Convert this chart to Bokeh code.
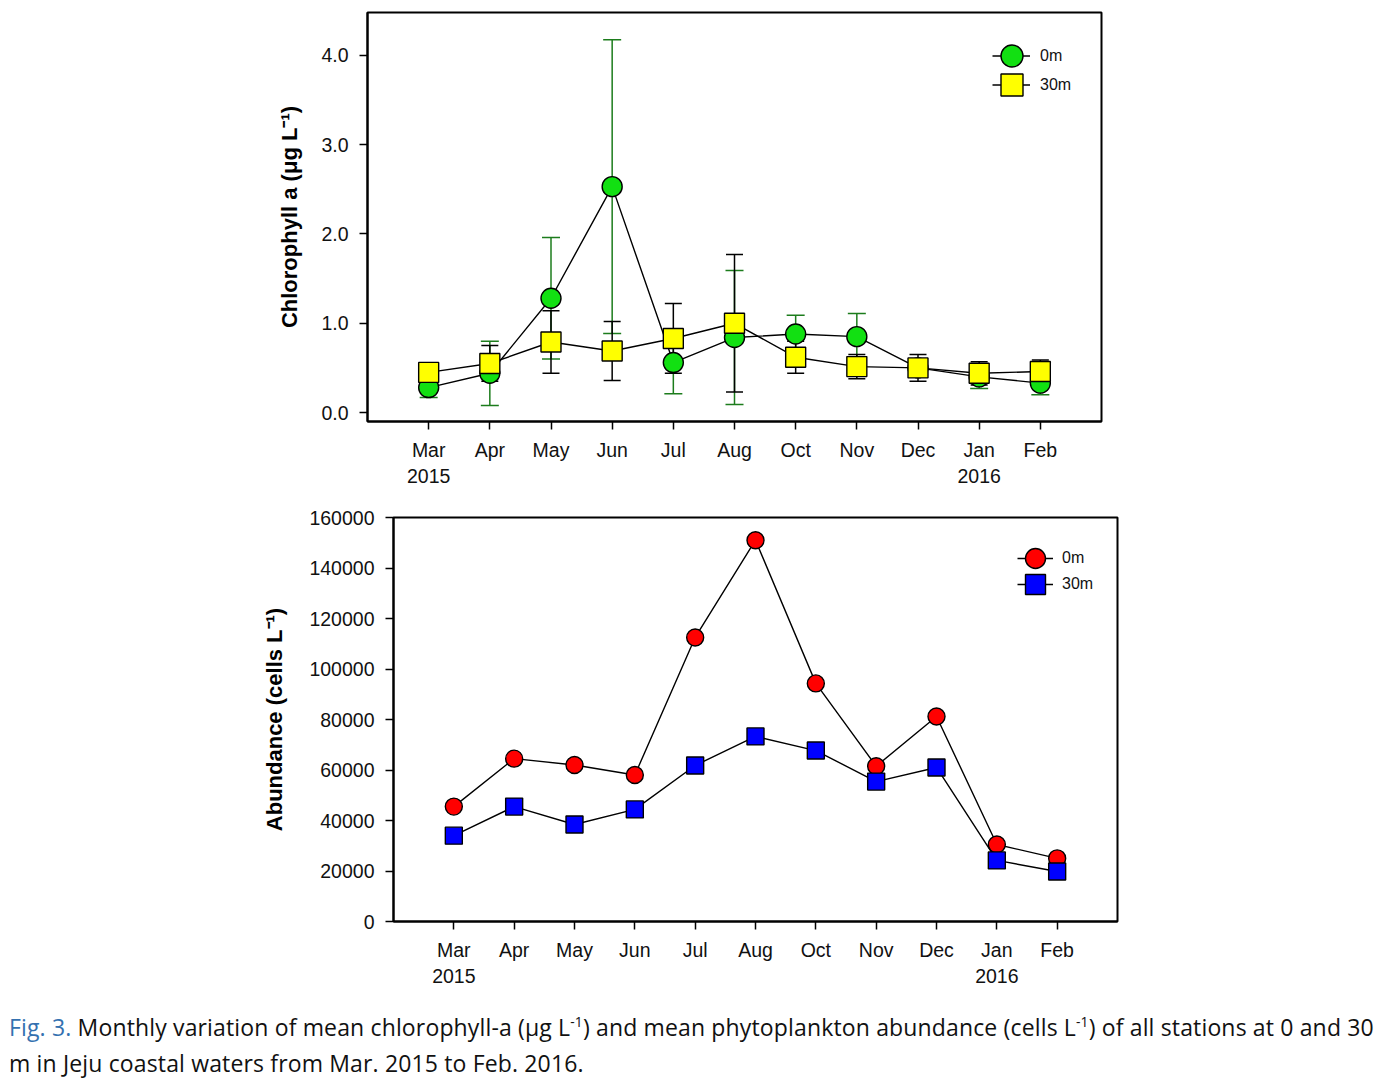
from bokeh.plotting import figure
from bokeh.models import (ColumnDataSource, Range1d, FixedTicker, NumeralTickFormatter,
                          Whisker, TeeHead, Legend, LegendItem, Div)
from bokeh.embed import file_html
from bokeh.resources import INLINE

# ---------------- data ----------------
months = ["Mar", "Apr", "May", "Jun", "Jul", "Aug", "Oct", "Nov", "Dec", "Jan", "Feb"]
tick_labels = ["Mar\n2015", "Apr", "May", "Jun", "Jul", "Aug", "Oct", "Nov", "Dec", "Jan\n2016", "Feb"]

chl_0m = [0.28, 0.44, 1.28, 2.53, 0.56, 0.84, 0.88, 0.85, 0.50, 0.40, 0.33]
chl_0m_sd = [0.11, 0.36, 0.68, 1.645, 0.35, 0.75, 0.21, 0.26, 0.10, 0.13, 0.13]
chl_30m = [0.45, 0.55, 0.79, 0.69, 0.83, 1.00, 0.62, 0.515, 0.50, 0.44, 0.46]
chl_30m_sd = [0.08, 0.20, 0.35, 0.33, 0.39, 0.77, 0.18, 0.135, 0.15, 0.13, 0.13]

abund_0m = [45500, 64500, 62000, 58000, 112500, 151000, 94300, 61500, 81200, 30500, 25000]
abund_30m = [34000, 45500, 38400, 44400, 61800, 73300, 67700, 55400, 61000, 24200, 19800]

chl_ticks = [0, 1, 2, 3, 4]
abund_ticks = [0, 20000, 40000, 60000, 80000, 100000, 120000, 140000, 160000]

# ---------------- style ----------------
FONT = "Liberation Sans"
GREEN = "#12e012"
GREEN_ERR = "#1c7c1c"
YELLOW = "#ffff00"
RED = "#ff0000"
BLUE = "#0000ff"

pos = list(range(1, len(months) + 1))


def style(p, yticks):
    p.xaxis.ticker = FixedTicker(ticks=pos)
    p.xaxis.major_label_overrides = {x: lab for x, lab in zip(pos, tick_labels)}
    p.yaxis.ticker = FixedTicker(ticks=yticks)
    for ax in (p.xaxis[0], p.yaxis[0]):
        ax.axis_line_color = "black"
        ax.axis_line_width = 2
        ax.major_tick_line_color = "black"
        ax.major_tick_line_width = 1.5
        ax.major_tick_out = 8
        ax.major_tick_in = 0
        ax.minor_tick_line_color = None
        ax.major_label_text_font = FONT
        ax.major_label_text_font_size = "19.5px"
        ax.major_label_text_color = "#111111"
        ax.axis_label_text_font = FONT
        ax.axis_label_text_font_style = "bold"
        ax.axis_label_text_font_size = "22px"
        ax.axis_label_text_color = "black"
    p.xaxis.major_label_standoff = 9
    p.yaxis.major_label_standoff = 11
    p.xgrid.grid_line_color = None
    p.ygrid.grid_line_color = None
    p.outline_line_color = "black"
    p.outline_line_width = 2
    p.background_fill_color = "white"
    p.border_fill_color = "white"


def line_legend(items, loc, gw, gh, standoff):
    return Legend(items=items, location=loc, glyph_width=gw, glyph_height=gh, spacing=0,
                  label_standoff=standoff, label_height=gh, padding=0, margin=0,
                  border_line_color=None, background_fill_alpha=0,
                  label_text_font=FONT, label_text_font_size="16px",
                  label_text_color="#111111")


def marker_legend(renderer, loc, g):
    return Legend(items=[LegendItem(label="", renderers=[renderer])], location=loc,
                  glyph_width=g, glyph_height=g, spacing=0, label_standoff=0,
                  label_width=0, label_height=0, padding=0, margin=0,
                  border_line_color=None, background_fill_alpha=0,
                  label_text_font_size="1px")


# ---------------- top chart ----------------
src_top = ColumnDataSource(dict(
    x=pos,
    c0=chl_0m,
    c0_lo=[m - s for m, s in zip(chl_0m, chl_0m_sd)],
    c0_hi=[m + s for m, s in zip(chl_0m, chl_0m_sd)],
    c30=chl_30m,
    c30_lo=[m - s for m, s in zip(chl_30m, chl_30m_sd)],
    c30_hi=[m + s for m, s in zip(chl_30m, chl_30m_sd)],
))

p1 = figure(output_backend="svg", toolbar_location=None,
            frame_width=734, frame_height=409,
            min_border_left=367, min_border_right=289,
            min_border_top=12, min_border_bottom=79,
            x_range=Range1d(0, 12), y_range=Range1d(-0.1, 4.48))
style(p1, chl_ticks)
p1.yaxis.formatter = NumeralTickFormatter(format="0.0")
p1.yaxis.axis_label = "Chlorophyll a (μg L⁻¹)"
p1.yaxis.axis_label_standoff = 16

w0 = Whisker(base="x", lower="c0_lo", upper="c0_hi", source=src_top,
             line_color=GREEN_ERR, line_width=1.5,
             upper_head=TeeHead(size=18, line_color=GREEN_ERR, line_width=1.5),
             lower_head=TeeHead(size=18, line_color=GREEN_ERR, line_width=1.5))
p1.add_layout(w0)
l0 = p1.line("x", "c0", source=src_top, line_color="black", line_width=1.4)
s0 = p1.scatter("x", "c0", source=src_top, marker="circle", size=20,
                fill_color=GREEN, line_color="black", line_width=1.4)
w30 = Whisker(base="x", lower="c30_lo", upper="c30_hi", source=src_top,
              line_color="black", line_width=1.5,
              upper_head=TeeHead(size=17, line_color="black", line_width=1.5),
              lower_head=TeeHead(size=17, line_color="black", line_width=1.5))
p1.add_layout(w30)
l30 = p1.line("x", "c30", source=src_top, line_color="black", line_width=1.4)
s30 = p1.scatter("x", "c30", source=src_top, marker="square", size=20,
                 fill_color=YELLOW, line_color="black", line_width=1.4)

p1.add_layout(line_legend([LegendItem(label="0m", renderers=[l0]),
                           LegendItem(label="30m", renderers=[l30])],
                          (625, 322), 38, 29, 10))
p1.add_layout(marker_legend(s0, (617, 338), 55))
p1.add_layout(marker_legend(s30, (617, 309), 55))

# ---------------- bottom chart ----------------
src_bot = ColumnDataSource(dict(x=pos, a0=abund_0m, a30=abund_30m))

p2 = figure(output_backend="svg", toolbar_location=None,
            frame_width=724, frame_height=404,
            min_border_left=393, min_border_right=273,
            min_border_top=17, min_border_bottom=79,
            x_range=Range1d(0, 12), y_range=Range1d(0, 160000))
style(p2, abund_ticks)
p2.yaxis.formatter = NumeralTickFormatter(format="0")
p2.yaxis.axis_label = "Abundance (cells L⁻¹)"
p2.yaxis.axis_label_standoff = 19

m0 = p2.line("x", "a0", source=src_bot, line_color="black", line_width=1.4)
r0 = p2.scatter("x", "a0", source=src_bot, marker="circle", size=17,
                fill_color=RED, line_color="black", line_width=1.4)
m30 = p2.line("x", "a30", source=src_bot, line_color="black", line_width=1.4)
r30 = p2.scatter("x", "a30", source=src_bot, marker="square", size=17,
                 fill_color=BLUE, line_color="black", line_width=1.4)

p2.add_layout(line_legend([LegendItem(label="0m", renderers=[m0]),
                           LegendItem(label="30m", renderers=[m30])],
                          (624, 324), 36, 26, 9))
p2.add_layout(marker_legend(r0, (617, 338), 50))
p2.add_layout(marker_legend(r30, (617, 312), 50))

# ---------------- caption ----------------
caption_html = (
    '<div style="font-family:\'Open Sans\',sans-serif;font-size:23px;line-height:36px;'
    'color:#111111;white-space:nowrap;letter-spacing:0.15px;'
    'padding-top:4px;padding-left:4px;">'
    '<span style="color:#3471b0">Fig. 3.</span> Monthly variation of mean chlorophyll-a '
    '(μg L<sup style="font-size:0.6em;line-height:0">-1</sup>) and mean phytoplankton abundance '
    '(cells L<sup style="font-size:0.6em;line-height:0">-1</sup>) of all stations at 0 and 30<br>'
    'm in Jeju coastal waters from Mar. 2015 to Feb. 2016.</div>'
)
caption = Div(text=caption_html, width=1390, height=79)

open("out.html", "w").write(file_html([p1, p2, caption], INLINE))
